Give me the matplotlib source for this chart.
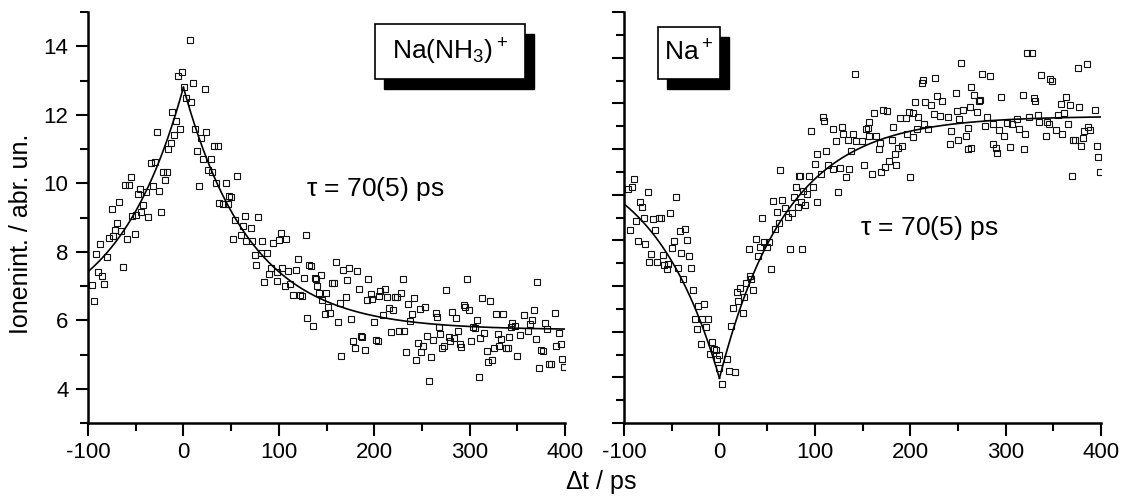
import numpy as np
import matplotlib.pyplot as plt
from matplotlib.patches import Rectangle
from matplotlib.ticker import MultipleLocator

plt.rcParams['font.family'] = ['Liberation Sans', 'DejaVu Sans']
plt.rcParams['mathtext.default'] = 'regular'
plt.rcParams['axes.unicode_minus'] = False

# --- Na(NH3)+ signal (left panel) ---
nh3_t = [-95.5, -93.4, -91.3, -89.2, -87.0, -85.0, -83.6, -80.0, -78.0, -75.2,
         -73.5, -71.4, -69.3, -67.2, -65.4, -63.6, -61.5, -58.8, -57.0, -55.2,
         -53.6, -51.0, -49.4, -47.3, -45.5, -44.0, -42.0, -39.2, -37.0, -34.0,
         -31.5, -29.4, -27.3, -25.6, -23.2, -21.4, -19.3, -17.5, -15.8, -13.3,
         -11.6, -9.5, -7.4, -5.7, -3.6, -1.5, 1.0, 2.4, 6.6, 8.3,
         10.4, 12.5, 14.6, 16.7, 18.4, 20.5, 22.3, 24.0, 26.1, 28.6,
         30.3, 31.8, 34.2, 36.6, 37.3, 41.5, 44.3, 46.8, 47.8, 50.2,
         52.3, 54.4, 56.5, 60.7, 62.5, 64.3, 66.0, 70.5, 72.0, 74.7,
         76.4, 78.5, 81.3, 82.0, 84.5, 88.0, 89.7, 92.2, 94.2, 97.8,
         98.0, 100.0, 102.0, 103.7, 106.0, 107.8, 110.0, 112.0, 115.0, 118.4,
         120.1, 122.0, 124.0, 126.0, 128.0, 130.0, 131.7, 134.0, 135.8, 137.6,
         139.3, 140.0, 142.0, 143.9, 145.6, 148.0, 149.8, 151.9, 153.7, 156.0,
         158.0, 160.1, 162.0, 164.0, 165.5, 167.6, 170.0, 171.8, 173.9, 176.0,
         178.1, 179.9, 181.9, 183.7, 186.2, 187.5, 190.0, 192.0, 193.7, 196.3,
         198.0, 199.8, 201.5, 204.0, 205.3, 206.0, 209.5, 211.6, 213.4, 215.5,
         217.2, 219.7, 221.4, 223.5, 225.7, 227.7, 229.9, 231.2, 233.3, 235.8,
         237.5, 239.6, 241.7, 243.5, 245.9, 247.7, 249.4, 251.5, 253.3, 255.7,
         257.4, 259.9, 261.6, 264.4, 265.4, 268.0, 269.3, 271.4, 273.5, 275.3,
         278.0, 279.4, 282.0, 283.3, 285.4, 287.5, 290.0, 291.0, 293.6, 295.2,
         297.6, 299.4, 301.4, 303.9, 305.7, 307.3, 309.4, 311.2, 313.3, 315.4,
         317.8, 319.3, 321.4, 323.0, 325.8, 327.2, 329.4, 330.8, 333.2, 335.0,
         337.8, 340.3, 341.3, 343.0, 344.7, 347.6, 349.3, 352.8, 357.4, 360.8,
         363.3, 365.0, 367.5, 369.2, 371.0, 373.0, 375.2, 377.3, 379.0, 381.5,
         383.2, 385.3, 389.2, 390.6, 393.4, 395.5, 397.2, 399.3]
nh3_y = [7.04, 6.56, 7.93, 7.40, 8.24, 7.30, 7.07, 7.85, 8.40, 9.25,
         8.47, 8.64, 8.83, 9.46, 8.60, 7.56, 9.95, 8.37, 9.95, 10.17,
         9.04, 8.53, 9.08, 9.68, 9.84, 9.16, 9.37, 9.73, 9.01, 10.60,
         9.93, 10.63, 11.51, 9.76, 9.15, 10.34, 10.09, 10.34, 10.99, 11.18,
         12.09, 11.41, 11.83, 13.12, 11.57, 13.25, 12.80, 12.50, 14.18, 12.37,
         12.93, 11.57, 10.95, 9.93, 11.32, 10.70, 12.75, 11.51, 10.39, 10.70,
         10.34, 11.10, 10.00, 11.10, 9.43, 9.40, 10.00, 9.40, 9.63, 9.60,
         8.36, 8.93, 10.20, 8.49, 8.76, 9.05, 8.30, 8.68, 8.30, 7.91,
         7.62, 9.02, 7.96, 8.31, 7.12, 7.96, 7.35, 7.53, 8.27, 7.41,
         7.16, 8.33, 8.56, 7.54, 6.99, 8.36, 7.45, 7.06, 6.74, 7.48,
         7.80, 6.74, 6.72, 7.22, 8.49, 6.08, 7.60, 7.57, 5.82, 7.22,
         7.21, 7.01, 6.80, 7.31, 6.59, 6.18, 6.80, 6.38, 6.20, 7.09,
         7.09, 7.70, 5.94, 6.51, 4.97, 7.48, 6.69, 7.18, 7.53, 6.04,
         5.38, 5.18, 7.44, 6.90, 5.55, 5.50, 5.14, 6.59, 7.20, 6.76,
         6.62, 5.94, 5.43, 5.38, 6.70, 6.86, 6.16, 6.90, 6.68, 6.37,
         5.65, 6.29, 6.67, 6.67, 5.68, 6.80, 7.19, 5.68, 5.08, 6.46,
         5.98, 6.19, 6.64, 4.83, 5.33, 6.34, 5.08, 5.25, 6.40, 5.53,
         4.22, 4.94, 5.42, 6.20, 6.10, 5.81, 5.59, 5.19, 5.25, 6.88,
         5.51, 5.40, 6.25, 5.48, 6.06, 5.69, 5.31, 5.23, 6.44, 6.38,
         7.19, 6.29, 5.38, 5.79, 5.76, 6.00, 4.33, 5.48, 6.66, 5.62,
         5.09, 4.78, 6.57, 4.85, 5.19, 6.18, 5.59, 5.25, 5.44, 6.18,
         5.18, 5.18, 5.51, 5.79, 5.91, 5.82, 4.96, 5.57, 6.16, 5.69,
         5.89, 6.00, 6.29, 5.45, 7.12, 4.61, 5.14, 5.10, 5.91, 5.73,
         4.71, 4.72, 6.20, 5.25, 5.64, 5.32, 4.86, 4.63]

# --- Na+ signal (right panel, unlabelled y scale) ---
na_t = [-95.5, -93.4, -91.3, -89.2, -87.1, -85.0, -83.5, -81.4, -79.4, -77.7,
        -75.2, -73.5, -71.7, -69.6, -67.2, -65.4, -63.6, -61.2, -59.4, -58.1,
        -55.2, -53.6, -51.5, -49.7, -47.6, -45.5, -43.7, -41.6, -39.9, -37.8,
        -35.7, -33.6, -31.9, -29.8, -27.7, -25.6, -23.5, -22.1, -19.3, -18.6,
        -15.8, -13.7, -12.0, -9.5, -7.4, -6.0, -3.9, -2.8, -0.4, -0.1,
        2.4, 8.0, 10.4, 12.2, 14.3, 16.4, 18.1, 19.8, 21.9, 24.4,
        25.8, 27.6, 30.7, 32.1, 33.1, 35.5, 38.0, 40.5, 42.9, 44.3,
        46.8, 49.6, 52.3, 54.4, 56.2, 58.3, 60.4, 62.5, 63.8, 66.0,
        68.8, 72.2, 74.0, 76.4, 78.2, 80.3, 82.1, 83.1, 84.5, 85.2,
        86.3, 88.0, 89.7, 92.1, 94.2, 96.0, 98.4, 100.2, 102.0, 102.0,
        106.2, 108.3, 110.0, 111.7, 114.2, 118.8, 119.4, 121.9, 124.0, 126.4,
        128.2, 129.9, 132.7, 134.5, 135.9, 137.9, 139.7, 142.5, 143.2, 149.2,
        151.9, 154.0, 155.8, 156.5, 157.1, 160.3, 162.4, 163.8, 167.3, 168.3,
        169.7, 171.8, 173.6, 176.0, 178.1, 180.6, 182.3, 184.1, 185.4, 187.5,
        189.3, 191.7, 195.2, 196.3, 198.5, 199.8, 202.6, 203.0, 205.4, 207.1,
        208.3, 212.4, 213.7, 214.5, 215.2, 219.0, 221.5, 224.4, 225.7, 227.8,
        231.0, 233.7, 239.7, 241.7, 242.2, 247.7, 248.5, 250.4, 250.6, 253.6,
        254.8, 258.8, 260.0, 260.3, 262.5, 263.7, 263.7, 267.2, 269.7, 272.1,
        273.2, 275.6, 278.4, 280.8, 283.6, 286.5, 287.1, 289.9, 291.3, 293.1,
        295.5, 298.3, 301.1, 304.6, 307.0, 311.6, 314.4, 317.9, 319.6, 320.7,
        322.7, 324.9, 327.4, 329.8, 330.8, 334.3, 335.4, 337.4, 342.0, 343.1,
        345.5, 346.5, 349.0, 352.8, 355.3, 357.8, 358.8, 361.2, 363.4, 365.1,
        367.5, 369.3, 371.0, 372.7, 375.6, 377.3, 379.0, 381.5, 382.5, 385.0,
        386.7, 388.5, 393.7, 395.5, 397.2, 399.0]
na_y = [5.13, 4.22, 5.16, 5.34, 4.42, 3.99, 4.84, 4.73, 4.50, 3.91,
        5.05, 3.52, 3.71, 4.47, 4.22, 3.53, 4.50, 4.50, 3.68, 3.45,
        3.38, 3.49, 4.59, 3.83, 3.98, 4.95, 3.39, 4.21, 3.73, 3.16,
        4.25, 4.01, 3.66, 3.39, 2.91, 2.27, 2.06, 2.57, 1.74, 2.27,
        2.60, 2.11, 2.28, 1.52, 1.78, 1.62, 1.59, 1.40, 1.48, 1.20,
        0.85, 1.40, 1.14, 2.13, 2.51, 1.12, 2.86, 2.68, 2.95, 2.41,
        2.77, 3.06, 3.81, 3.21, 3.15, 2.92, 4.04, 3.65, 3.85, 4.49,
        3.97, 3.85, 3.96, 3.38, 4.87, 4.25, 4.62, 4.39, 5.53, 4.89,
        4.71, 4.52, 3.81, 4.60, 4.95, 5.16, 4.74, 5.40, 5.40, 4.85,
        3.81, 5.07, 4.77, 5.02, 5.40, 6.40, 5.16, 5.68, 5.88, 4.84,
        5.45, 6.70, 6.61, 5.95, 5.64, 5.56, 6.44, 6.17, 5.05, 5.59,
        6.48, 6.32, 5.39, 6.19, 5.57, 5.96, 6.32, 7.64, 6.17, 6.17,
        5.65, 6.44, 6.46, 6.59, 6.28, 5.45, 6.78, 6.28, 5.99, 6.13,
        5.50, 6.85, 5.61, 6.83, 5.73, 6.20, 6.48, 5.90, 5.64, 6.02,
        6.68, 6.07, 6.68, 6.32, 6.80, 5.38, 6.27, 6.79, 7.04, 6.43,
        6.70, 7.45, 7.52, 6.54, 7.02, 6.43, 6.97, 6.77, 7.55, 7.16,
        6.73, 7.06, 6.69, 6.11, 6.39, 7.23, 6.83, 6.19, 6.66, 7.89,
        6.86, 6.29, 6.46, 5.99, 6.91, 7.35, 6.02, 7.19, 6.80, 7.06,
        7.08, 7.65, 6.51, 6.70, 7.59, 6.12, 6.54, 6.02, 5.91, 6.41,
        7.14, 6.29, 6.56, 6.05, 6.54, 6.66, 6.43, 7.18, 6.01, 6.32,
        8.11, 6.70, 8.11, 7.12, 7.05, 6.75, 6.59, 7.61, 6.29, 6.59,
        6.54, 7.54, 7.48, 6.41, 6.75, 6.98, 6.32, 6.78, 7.14, 6.54,
        6.97, 5.40, 6.20, 6.19, 7.78, 6.91, 6.06, 6.23, 6.39, 7.87,
        6.48, 6.41, 6.86, 6.06, 5.83, 5.49]

# fit parameters, both decays with tau = 70 ps
tau = 70.0
nh3_offset = 5.72
nh3_amp = 7.08
na_pre_offset, na_pre_amp = 6.0, 5.02
na_post_offset, na_post_amp = 6.72, 5.74

fig = plt.figure(figsize=(11.24, 5), dpi=100)
ax1 = fig.add_axes([0.0783, 0.154, 0.4244, 0.822])
ax2 = fig.add_axes([0.5552, 0.154, 0.4244, 0.822])

t_neg = np.linspace(-100, 0, 200)
t_pos = np.linspace(0, 400, 400)

marker_kw = dict(ls='none', marker='s', ms=4.8, mfc='none', mec='#111111', mew=0.8)

ax1.plot(nh3_t, nh3_y, **marker_kw)
ax1.plot(t_neg, nh3_offset + nh3_amp * np.exp(t_neg / tau), color='black', lw=1.2)
ax1.plot(t_pos, nh3_offset + nh3_amp * np.exp(-t_pos / tau), color='black', lw=1.2)

ax2.plot(na_t, na_y, **marker_kw)
ax2.plot(t_neg, na_pre_offset - na_pre_amp * np.exp(t_neg / tau), color='black', lw=1.2)
ax2.plot(t_pos, na_post_offset - na_post_amp * np.exp(-t_pos / tau), color='black', lw=1.2)

ax1.set_ylim(3, 15)
ax1.yaxis.set_major_locator(MultipleLocator(2))
ax1.yaxis.set_minor_locator(MultipleLocator(1))
ax2.set_ylim(0, 9)
ax2.yaxis.set_major_locator(MultipleLocator(1))
ax2.yaxis.set_minor_locator(MultipleLocator(0.5))
ax2.set_yticklabels([])

for ax in (ax1, ax2):
    ax.set_xlim(-100, 400)
    ax.xaxis.set_major_locator(MultipleLocator(100))
    ax.xaxis.set_minor_locator(MultipleLocator(50))
    for side in ('top', 'right'):
        ax.spines[side].set_visible(False)
    for side in ('left', 'bottom'):
        ax.spines[side].set_linewidth(1.8)
    ax.tick_params(which='major', direction='out', length=9, width=1.5,
                   labelsize=16, pad=5)
    ax.tick_params(which='minor', direction='out', length=5.5, width=1.5)

ax1.set_ylabel('Ionenint. / abr. un.', fontsize=18)
ax1.yaxis.set_label_coords(-0.115, 0.46)
fig.text(0.535, 0.036, '$\\Delta$t / ps', fontsize=18, ha='center', va='center')

ax1.text(128, 9.83, '$\\tau$ = 70(5) ps', fontsize=19, ha='left', va='center')
ax2.text(147, 4.28, '$\\tau$ = 70(5) ps', fontsize=19, ha='left', va='center')


def label_box(ax, x0, x1, y0, y1, dx, dy, text):
    ax.add_patch(Rectangle((x0 + dx, y0 - dy), x1 - x0, y1 - y0, transform=ax.transAxes,
                           facecolor='black', edgecolor='black', clip_on=False, zorder=5))
    ax.add_patch(Rectangle((x0, y0), x1 - x0, y1 - y0, transform=ax.transAxes,
                           facecolor='white', edgecolor='black', lw=1.2, clip_on=False, zorder=6))
    ax.text((x0 + x1) / 2, (y0 + y1) / 2, text, transform=ax.transAxes, fontsize=19,
            ha='center', va='center', zorder=7)


label_box(ax1, 0.602, 0.916, 0.836, 0.970, 0.019, 0.024, 'Na(NH$_3$)$^+$')
label_box(ax2, 0.072, 0.201, 0.836, 0.963, 0.018, 0.024, 'Na$^+$')

fig.savefig('out.png', dpi=100)
